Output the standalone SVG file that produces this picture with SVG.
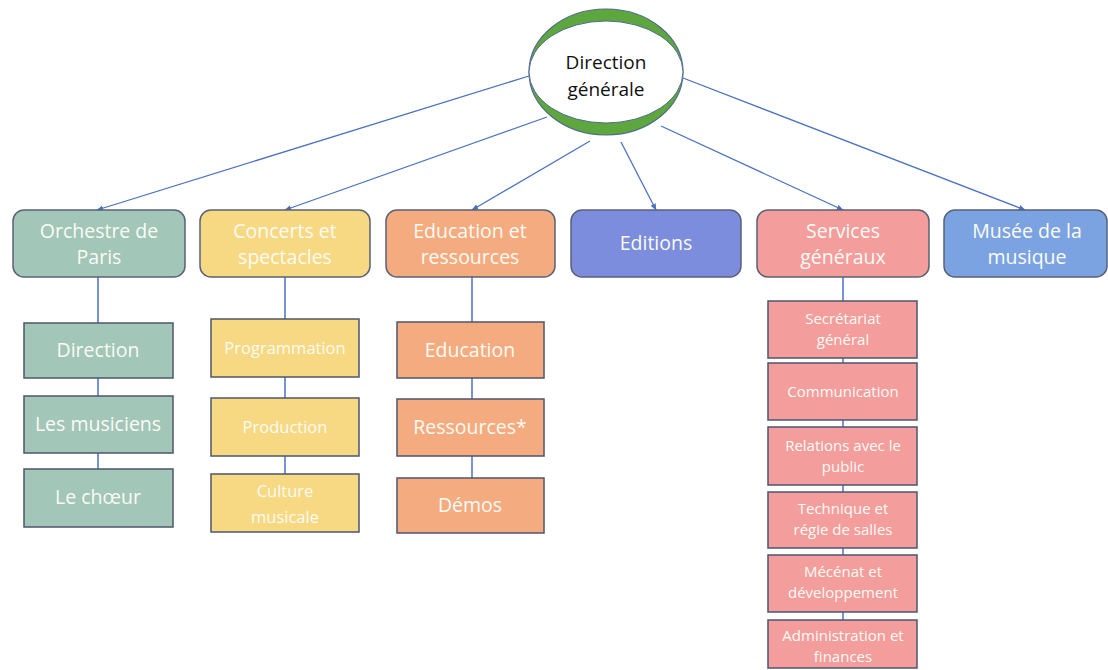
<svg xmlns="http://www.w3.org/2000/svg" width="1108" height="670" viewBox="0 0 1108 670">
<defs>
<marker id="arr" viewBox="0 0 10 10" refX="9" refY="5" markerWidth="7" markerHeight="7" orient="auto" markerUnits="userSpaceOnUse">
<path d="M0,1 L10,5 L0,9 z" fill="#4a72c0"/>
</marker>
<style>
.t{font-family:"Open Sans","Liberation Sans",sans-serif;fill:#fbfbf4;text-anchor:middle}
.top{stroke:#5a6276;stroke-width:1.5}
.sub{stroke:#4f566c;stroke-width:1.5}
.e{stroke:#4a72c0;stroke-width:1.3;fill:none}
.v{stroke:#4a72c0;stroke-width:1.5;fill:none}
</style>
</defs>
<rect width="1108" height="670" fill="#ffffff"/>
<g id="connectors">
<line class="e" x1="529" y1="76" x2="97" y2="210" marker-end="url(#arr)"/>
<line class="e" x1="547" y1="117" x2="285" y2="210" marker-end="url(#arr)"/>
<line class="e" x1="590" y1="141" x2="472" y2="210" marker-end="url(#arr)"/>
<line class="e" x1="621" y1="142" x2="656" y2="210" marker-end="url(#arr)"/>
<line class="e" x1="661" y1="126" x2="843" y2="210" marker-end="url(#arr)"/>
<line class="e" x1="683" y1="78" x2="1025" y2="210" marker-end="url(#arr)"/>
<line class="v" x1="98" y1="277" x2="98" y2="469"/>
<line class="v" x1="285" y1="277" x2="285" y2="474"/>
<line class="v" x1="472" y1="277" x2="472" y2="478"/>
<line class="v" x1="843" y1="277" x2="843" y2="620"/>
</g>
<g id="direction-generale">
<ellipse cx="606" cy="72" rx="77" ry="63" fill="#5ea63e" stroke="#4f6a8a" stroke-width="1.2"/>
<ellipse cx="606" cy="72" rx="77" ry="51" fill="#ffffff" stroke="#4f6a8a" stroke-width="1"/>
<text x="606" y="69" font-family="Open Sans, Liberation Sans, sans-serif" font-size="19" text-anchor="middle" fill="#111">Direction</text>
<text x="606" y="96" font-family="Open Sans, Liberation Sans, sans-serif" font-size="19" text-anchor="middle" fill="#111">générale</text>
</g>
<g id="orchestre">
<rect class="top" x="13" y="210" width="172" height="67" rx="11" fill="#a2c6b8"/>
<text class="t" x="99" y="238" font-size="19.5">Orchestre de</text>
<text class="t" x="99" y="264" font-size="19.5">Paris</text>
</g>
<g id="concerts">
<rect class="top" x="200" y="210" width="170" height="67" rx="11" fill="#f6d982"/>
<text class="t" x="285" y="238" font-size="19.5">Concerts et</text>
<text class="t" x="285" y="264" font-size="19.5">spectacles</text>
</g>
<g id="education">
<rect class="top" x="386" y="210" width="169" height="67" rx="11" fill="#f5ab80"/>
<text class="t" x="470" y="238" font-size="19.5">Education et</text>
<text class="t" x="470" y="264" font-size="19.5">ressources</text>
</g>
<g id="editions">
<rect class="top" x="571" y="210" width="170" height="67" rx="11" fill="#7b8ddc"/>
<text class="t" x="656" y="250" font-size="19.5">Editions</text>
</g>
<g id="services">
<rect class="top" x="757" y="210" width="172" height="67" rx="11" fill="#f39d9d"/>
<text class="t" x="843" y="238" font-size="19.5">Services</text>
<text class="t" x="843" y="264" font-size="19.5">généraux</text>
</g>
<g id="musee">
<rect class="top" x="944" y="210" width="163" height="67" rx="11" fill="#7ba3e2"/>
<text class="t" x="1027" y="238" font-size="19.5">Musée de la</text>
<text class="t" x="1027" y="264" font-size="19.5">musique</text>
</g>
<g id="o-direction">
<rect class="sub" x="24" y="323" width="149" height="55" fill="#a2c6b8"/>
<text class="t" x="98" y="357" font-size="19.5">Direction</text>
</g>
<g id="o-musiciens">
<rect class="sub" x="24" y="396" width="149" height="57" fill="#a2c6b8"/>
<text class="t" x="98" y="431" font-size="19.5">Les musiciens</text>
</g>
<g id="o-choeur">
<rect class="sub" x="24" y="469" width="149" height="58" fill="#a2c6b8"/>
<text class="t" x="98" y="504" font-size="19.5">Le chœur</text>
</g>
<g id="c-programmation">
<rect class="sub" x="211" y="319" width="148" height="58" fill="#f6d982"/>
<text class="t" x="285" y="354" font-size="16.5">Programmation</text>
</g>
<g id="c-production">
<rect class="sub" x="211" y="398" width="148" height="58" fill="#f6d982"/>
<text class="t" x="285" y="433" font-size="16.5">Production</text>
</g>
<g id="c-culture">
<rect class="sub" x="211" y="474" width="148" height="58" fill="#f6d982"/>
<text class="t" x="285" y="497" font-size="16.5">Culture</text>
<text class="t" x="285" y="523" font-size="16.5">musicale</text>
</g>
<g id="e-education">
<rect class="sub" x="397" y="322" width="147" height="56" fill="#f5ab80"/>
<text class="t" x="470" y="357" font-size="19.5">Education</text>
</g>
<g id="e-ressources">
<rect class="sub" x="397" y="399" width="147" height="57" fill="#f5ab80"/>
<text class="t" x="470" y="434" font-size="19.5">Ressources*</text>
</g>
<g id="e-demos">
<rect class="sub" x="397" y="478" width="147" height="55" fill="#f5ab80"/>
<text class="t" x="470" y="512" font-size="19.5">Démos</text>
</g>
<g id="s-secretariat">
<rect class="sub" x="768" y="301" width="149" height="57" fill="#f39d9d"/>
<text class="t" x="843" y="324" font-size="15">Secrétariat</text>
<text class="t" x="843" y="345" font-size="15">général</text>
</g>
<g id="s-communication">
<rect class="sub" x="768" y="363" width="149" height="57" fill="#f39d9d"/>
<text class="t" x="843" y="397" font-size="15">Communication</text>
</g>
<g id="s-relations">
<rect class="sub" x="768" y="427" width="149" height="58" fill="#f39d9d"/>
<text class="t" x="843" y="451" font-size="15">Relations avec le</text>
<text class="t" x="843" y="472" font-size="15">public</text>
</g>
<g id="s-technique">
<rect class="sub" x="768" y="492" width="149" height="56" fill="#f39d9d"/>
<text class="t" x="843" y="514" font-size="15">Technique et</text>
<text class="t" x="843" y="535" font-size="15">régie de salles</text>
</g>
<g id="s-mecenat">
<rect class="sub" x="768" y="555" width="149" height="57" fill="#f39d9d"/>
<text class="t" x="843" y="577" font-size="15">Mécénat et</text>
<text class="t" x="843" y="598" font-size="15">développement</text>
</g>
<g id="s-administration">
<rect class="sub" x="768" y="620" width="149" height="48" fill="#f39d9d"/>
<text class="t" x="843" y="641" font-size="15">Administration et</text>
<text class="t" x="843" y="662" font-size="15">finances</text>
</g>
</svg>
